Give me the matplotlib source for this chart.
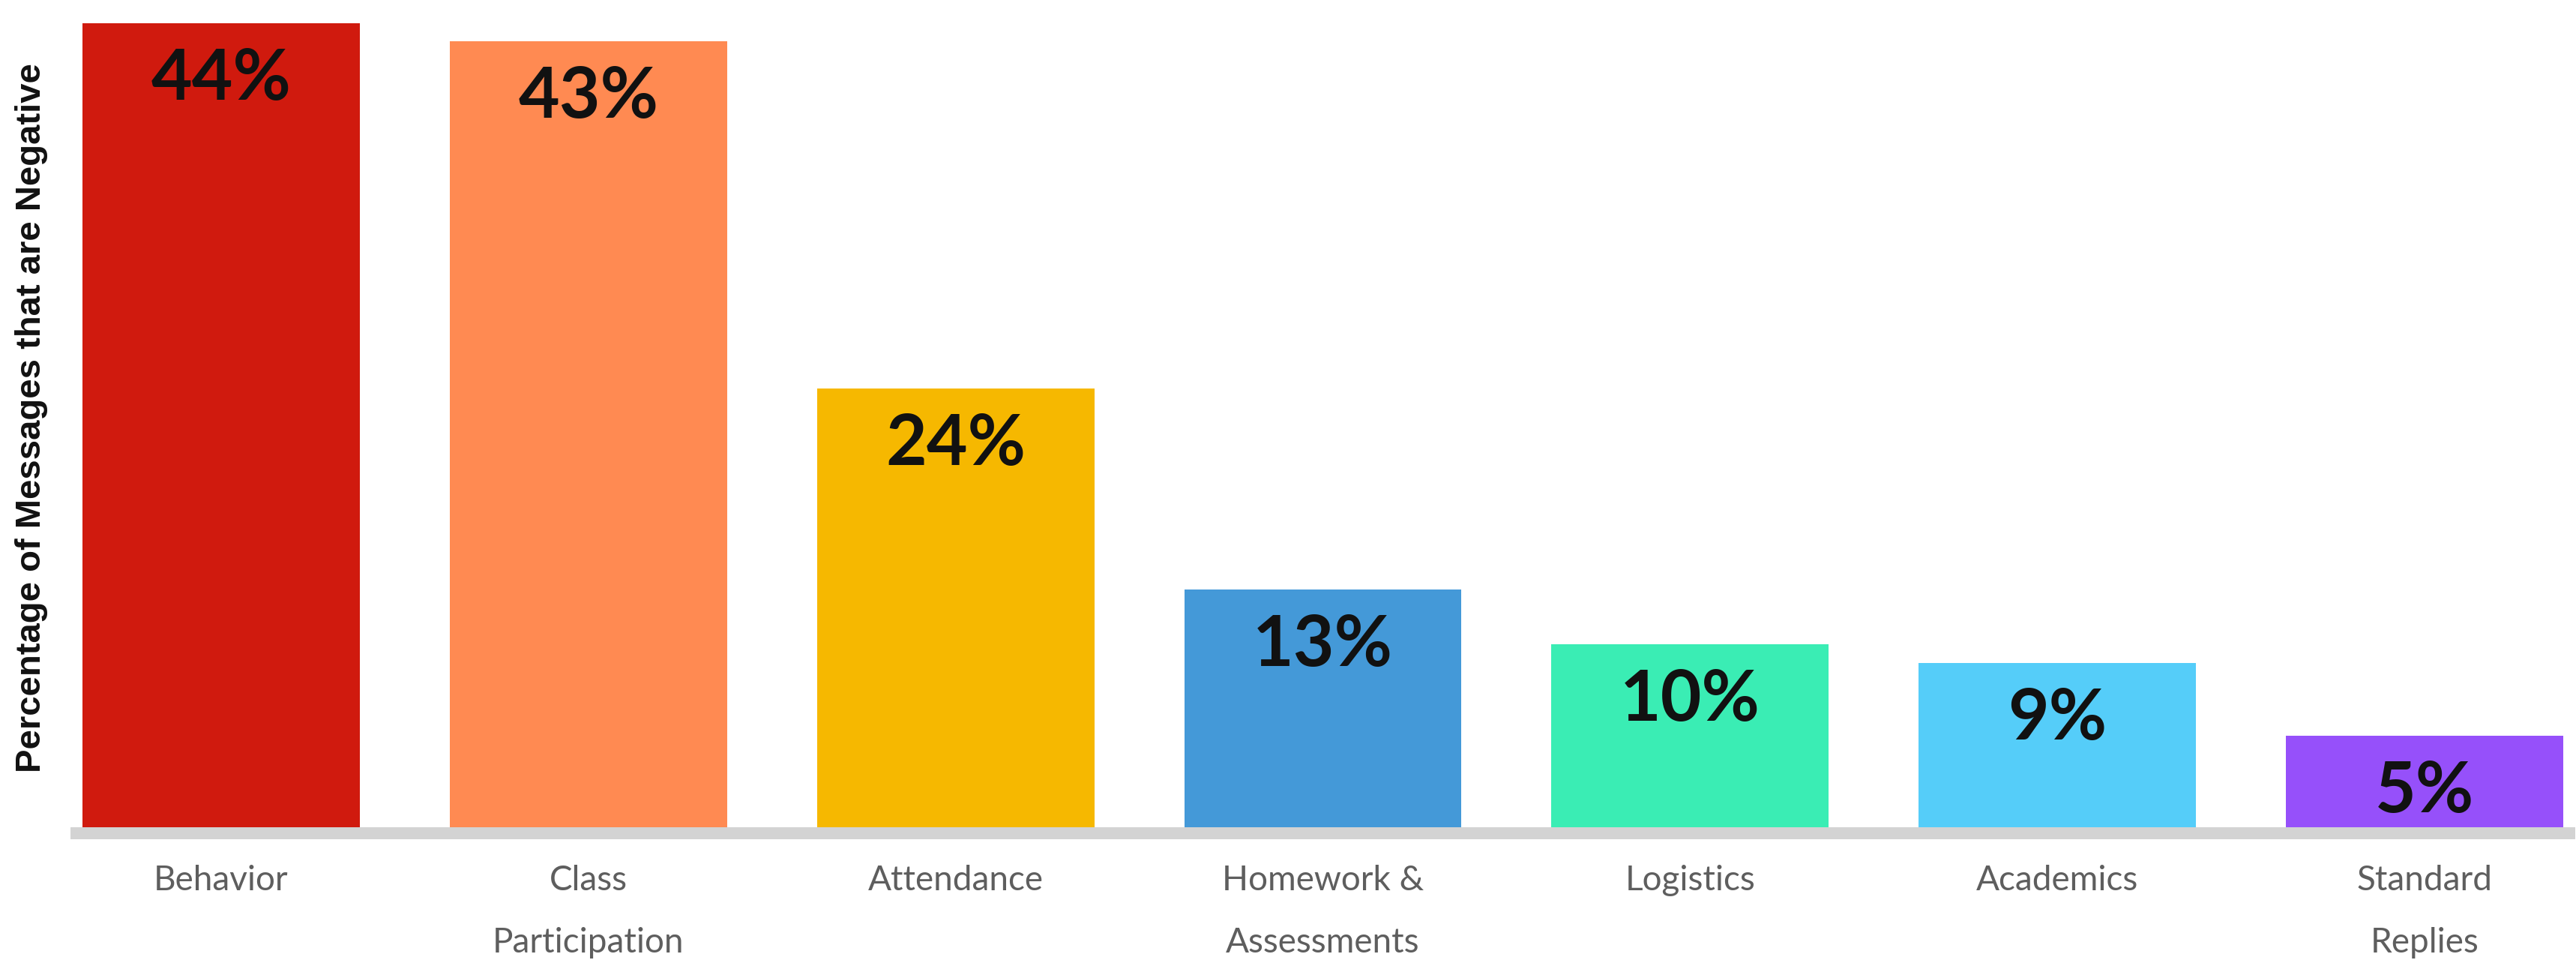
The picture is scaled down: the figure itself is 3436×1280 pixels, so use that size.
import matplotlib
matplotlib.use("Agg")
import matplotlib.pyplot as plt
import numpy as np

# share of messages flagged negative, by message category
categories = ["Behavior", "Class\nParticipation", "Attendance", "Homework &\nAssessments",
              "Logistics", "Academics", "Standard\nReplies"]
negative_pct = [44, 43, 24, 13, 10, 9, 5]
bar_colors = ["#D01A0E", "#FF8A52", "#F6B800", "#4499D8", "#3AEDB4", "#55CDF9", "#9650FA"]

W, H, DPI = 3437, 1280, 100
fig = plt.figure(figsize=(W / DPI, H / DPI), dpi=DPI)
fig.patch.set_facecolor("white")

# axes box in pixels: baseline at y=1103, gray rule below it
left, right, bottom, top = 102, 3427, 1280 - 1103, 1280
ax = fig.add_axes([left / W, bottom / H, (right - left) / W, (top - bottom) / H])

x = np.arange(len(categories))
bars = ax.bar(x, negative_pct, width=0.755, color=bar_colors, zorder=2)

ax.set_xlim(-0.394, len(categories) - 1 + 0.394)
ax.set_ylim(0, 45.27)

for rect, v in zip(bars, negative_pct):
    ax.annotate("{}%".format(v), (rect.get_x() + rect.get_width() / 2, v),
                xytext=(0, -54), textcoords="offset points",
                ha="center", va="center", fontsize=68, fontweight="bold",
                family=["Lato", "DejaVu Sans"], color="#111111")

for s in ["top", "right", "left"]:
    ax.spines[s].set_visible(False)
ax.spines["bottom"].set_color("#D3D3D3")
ax.spines["bottom"].set_linewidth(11.5)
ax.spines["bottom"].set_position(("outward", 5.8))

ax.set_yticks([])
ax.set_xticks(x)
ax.set_xticklabels(categories, fontsize=33, color="#5E5E5E",
                   family=["Lato", "DejaVu Sans"], linespacing=2.2, va="top")
ax.tick_params(axis="x", length=0, pad=30)

fig.text(42 / W, 1 - 557 / H, "Percentage of Messages that are Negative",
         rotation=90, ha="center", va="center", fontsize=34, fontweight="bold",
         family=["Liberation Sans", "DejaVu Sans"], color="#111111")

fig.savefig("out.png", dpi=DPI, facecolor="white")
